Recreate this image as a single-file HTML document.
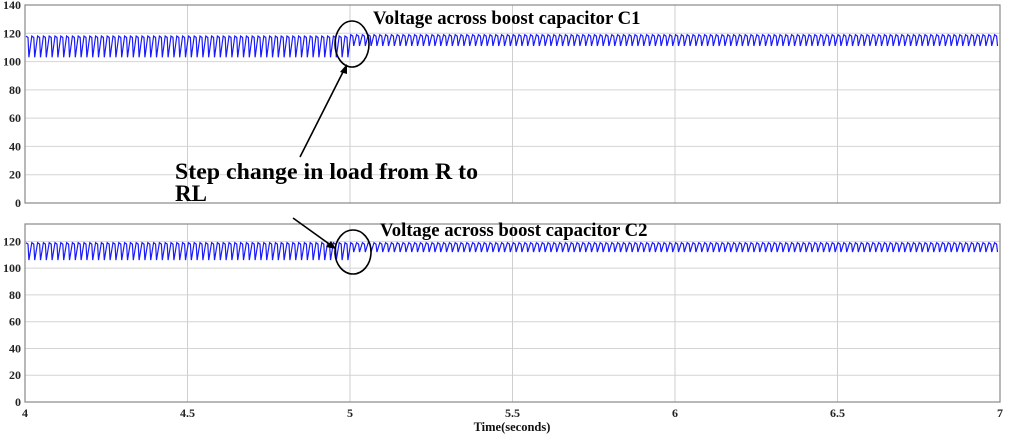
<!DOCTYPE html>
<html><head><style>
html,body{margin:0;padding:0;background:#fff;}
svg{display:block;}
text{font-family:"Liberation Serif",serif;font-weight:bold;}
</style></head><body>
<svg id="s" width="1011" height="440" viewBox="0 0 1011 440" xmlns="http://www.w3.org/2000/svg">
<g id="grid"></g>
<path id="w1" fill="none" stroke="#1a1aff" stroke-width="1.2"/>
<path id="w2" fill="none" stroke="#1a1aff" stroke-width="1.2"/>
<g id="lab" font-size="12" fill="#222"></g>
<text x="373" y="24" font-size="18.7" fill="#000">Voltage across boost capacitor C1</text>
<text x="380" y="236" font-size="18.7" fill="#000">Voltage across boost capacitor C2</text>
<text x="175" y="179" font-size="23" fill="#000" textLength="303" lengthAdjust="spacingAndGlyphs">Step change in load from R to</text>
<text x="175" y="201" font-size="23" fill="#000">RL</text>
<text x="512" y="431" font-size="12.5" fill="#111" text-anchor="middle">Time(seconds)</text>
<ellipse cx="352" cy="44" rx="17" ry="23" fill="none" stroke="#000" stroke-width="1.6"/>
<ellipse cx="353" cy="252" rx="18" ry="22" fill="none" stroke="#000" stroke-width="1.6"/>
<line x1="300" y1="157" x2="345" y2="68" stroke="#000" stroke-width="1.6"/>
<polygon points="347,64 340,72 347,74" fill="#000"/>
<line x1="293" y1="218" x2="332" y2="246" stroke="#000" stroke-width="1.6"/>
<polygon points="336,249 326,247 331,241" fill="#000"/>
</svg>
<script>
var NS="http://www.w3.org/2000/svg",g=document.getElementById('grid'),lab=document.getElementById('lab');
function el(p,n,a){var e=document.createElementNS(NS,n);for(var k in a)e.setAttribute(k,a[k]);p.appendChild(e);return e;}
var X0=25,X1=1000;
function xs(t){return X0+(t-4)*(X1-X0)/3;}
function plot(top,zero,ymax,w,pre,post){
  var yv=function(v){return zero-(zero-top)*v/ymax;};
  for(var v=0;v<=ymax;v+=20){var y=yv(v);
    el(g,'line',{x1:X0,x2:X1,y1:y,y2:y,stroke:'#d4d4d4','stroke-width':1});
    var t=el(lab,'text',{x:X0-4,y:y+4,'text-anchor':'end'});t.textContent=v;}
  for(var t2=4.5;t2<7;t2+=0.5){var x=xs(t2);el(g,'line',{x1:x,x2:x,y1:top,y2:zero,stroke:'#cfcfcf','stroke-width':1});}
  el(g,'rect',{x:X0,y:top,width:X1-X0,height:zero-top,fill:'none',stroke:'#888','stroke-width':1.2});
  var d='',x=X0+1,p=5.8;
  while(x<X1-2){var r=x<348?pre:post;
    d+=(d?'L':'M')+x.toFixed(1)+','+yv(r[0]).toFixed(1)+'L'+(x+p*0.35).toFixed(1)+','+yv(r[0]-1).toFixed(1)+'L'+(x+p*0.5).toFixed(1)+','+yv(r[1]).toFixed(1);
    x+=p;}
  document.getElementById(w).setAttribute('d',d);
}
plot(5,203,140,'w1',[118,103],[119,111]);
plot(224,402,133,'w2',[119,106],[119,112]);
var ticks=['4','4.5','5','5.5','6','6.5','7'];
for(var i=0;i<7;i++){var t=el(lab,'text',{x:xs(4+i*0.5),y:417,'text-anchor':'middle'});t.textContent=ticks[i];}
</script>
</body></html>
